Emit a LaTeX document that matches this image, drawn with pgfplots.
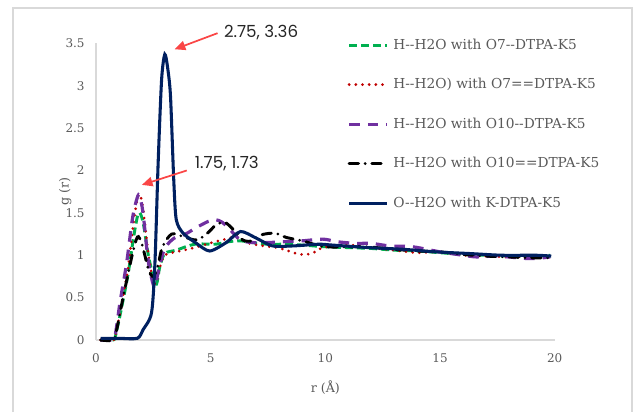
\documentclass[border=0pt]{standalone}
\usepackage{fontspec}
\setmainfont{DejaVu Serif}
\newfontfamily\annfont{Poppins}
\usepackage{pgfplots}
\pgfplotsset{compat=1.18}
\usetikzlibrary{arrows.meta}

\definecolor{txtgray}{RGB}{89,89,89}
\definecolor{axgray}{RGB}{217,217,217}
\definecolor{cgreen}{RGB}{0,176,80}
\definecolor{cred}{RGB}{192,0,0}
\definecolor{cpurple}{RGB}{112,48,160}
\definecolor{cnavy}{RGB}{0,32,96}
\definecolor{carrow}{RGB}{250,70,70}

\begin{document}
\begin{tikzpicture}
\useasboundingbox (0,0) rectangle (475.5pt,309pt);
\draw[axgray, line width=0.8pt] (9.75pt,0) -- (9.75pt,303pt) -- (474pt,303pt) -- (474pt,0);
\begin{axis}[
  at={(72pt,54pt)}, anchor=south west,
  scale only axis, width=344pt, height=222.5pt,
  xmin=0, xmax=20, ymin=0, ymax=3.5,
  xtick={0,5,10,15,20}, ytick={0,0.5,1,1.5,2,2.5,3,3.5},
  axis x line=bottom, axis y line=left,
  axis line style={axgray, line width=0.8pt, -},
  major tick length=0pt,
  tick label style={font=\fontsize{9}{10}\selectfont, text=txtgray},
  /pgf/number format/assume math mode=true,
  yticklabel style={anchor=east, xshift=-5pt},
  xticklabel style={anchor=north, yshift=-7pt},
  xlabel={r (Å)}, ylabel={g (r)},
  label style={font=\fontsize{9.5}{11}\selectfont, text=txtgray},
  xlabel style={at={(axis description cs:0.5,-0.162)}, anchor=center},
  ylabel style={at={(axis description cs:-0.067,0.5)}, anchor=center},
  clip=false,
  legend cell align=left,
  legend style={at={(0.548,1.025)}, anchor=north west, draw=none, fill=none,
    font=\fontsize{10.3}{12}\selectfont, text=txtgray, row sep=16.3pt,
    inner sep=0pt, nodes={inner xsep=3.5pt}},
  legend image code/.code={\draw[#1, line width=2.3pt] (0pt,0pt) -- (28.5pt,0pt);},
]
\addplot[cgreen, line width=2.2pt, dash pattern=on 6pt off 3pt, smooth, tension=0.5] coordinates {
(0.2,0) (0.75,0) (0.85,0.05) (1.1,0.36) (1.4,0.78) (1.62,1.18) (1.8,1.45) (1.91,1.5) (2.06,1.38) (2.27,1.02) (2.49,0.75) (2.64,0.66) (2.78,0.86) (3.0,1.02) (3.5,1.06) (4.3,1.13) (5.2,1.13) (5.8,1.16) (6.3,1.17) (6.8,1.15) (7.5,1.13) (8.2,1.13) (9,1.12) (10,1.1) (11,1.09) (12,1.08) (13,1.06) (14,1.05) (15,1.03) (16,1.01) (17,1.0) (18,0.99) (19,0.99) (19.8,1.0)};
\addlegendentry{H-{}-H2O with O7-{}-DTPA-K5}
\addplot[cred, line width=2.2pt, line cap=round, dash pattern=on 0pt off 5pt, smooth, tension=0.5] coordinates {
(0.2,0) (0.75,0) (0.85,0.05) (1.1,0.4) (1.4,0.85) (1.62,1.35) (1.8,1.66) (1.91,1.72) (2.05,1.55) (2.27,1.05) (2.45,0.75) (2.6,0.66) (2.78,0.85) (3.0,1.0) (3.5,1.04) (4.16,1.08) (4.8,1.13) (5.5,1.18) (6.1,1.21) (6.7,1.14) (7.3,1.11) (7.9,1.09) (8.4,1.05) (8.9,1.01) (9.4,1.02) (9.8,1.08) (10.3,1.11) (11.1,1.12) (12,1.09) (13,1.06) (14,1.03) (15,1.04) (16,1.0) (17,0.99) (18,0.98) (19,0.98) (19.8,0.97)};
\addlegendentry{H-{}-H2O) with O7==DTPA-K5}
\addplot[cpurple, line width=2.4pt, dash pattern=on 8pt off 6pt, smooth, tension=0.5] coordinates {
(0.2,0) (0.7,0) (0.85,0.08) (1.05,0.45) (1.33,0.9) (1.6,1.45) (1.8,1.68) (1.9,1.7) (2.05,1.5) (2.27,0.95) (2.45,0.7) (2.57,0.63) (2.75,0.85) (3.0,1.08) (3.4,1.2) (3.9,1.25) (4.4,1.33) (4.9,1.4) (5.2,1.42) (5.5,1.39) (5.85,1.3) (6.3,1.18) (6.8,1.15) (7.5,1.15) (8.2,1.16) (9,1.17) (9.9,1.19) (10.5,1.16) (11.3,1.14) (12,1.14) (12.8,1.11) (13.8,1.1) (15,1.04) (16,1.0) (16.6,0.98) (17.5,0.99) (18.9,0.96) (19.8,0.98)};
\addlegendentry{H-{}-H2O with O10-{}-DTPA-K5}
\addplot[black, line width=2.2pt, line cap=round, dash pattern=on 7pt off 5pt on 0pt off 5pt, smooth, tension=0.5] coordinates {
(0.2,0) (0.75,0) (0.9,0.12) (1.18,0.5) (1.55,0.97) (1.75,1.18) (1.85,1.22) (1.98,1.15) (2.13,1.0) (2.3,0.82) (2.5,0.75) (2.7,0.88) (2.9,1.1) (3.3,1.25) (3.8,1.22) (4.4,1.18) (4.9,1.27) (5.2,1.35) (5.6,1.39) (6.0,1.3) (6.4,1.18) (6.8,1.17) (7.2,1.24) (7.8,1.26) (8.3,1.21) (9.0,1.17) (10,1.1) (11.7,1.1) (13,1.07) (14,1.05) (15,1.04) (16,1.01) (17,0.99) (18,0.98) (19,0.97) (19.8,0.97)};
\addlegendentry{H-{}-H2O with O10==DTPA-K5}
\addplot[cnavy, line width=2.3pt, smooth, tension=0.45] coordinates {
(0.2,0.02) (1.0,0.02) (1.8,0.02) (2.05,0.12) (2.42,0.32) (2.57,0.91) (2.71,2.09) (2.86,3.07) (3.0,3.37) (3.13,3.2) (3.25,2.87) (3.39,1.89) (3.5,1.42) (3.8,1.26) (4.38,1.14) (4.96,1.05) (5.68,1.15) (6.3,1.28) (7.0,1.2) (7.7,1.11) (8.6,1.11) (9.7,1.13) (10.3,1.12) (11.9,1.09) (13.4,1.07) (14.8,1.04) (16.3,1.02) (17.7,1.0) (19.2,1.0) (19.85,0.99)};
\addlegendentry{O-{}-H2O with K-DTPA-K5}
\draw[carrow, line width=1.3pt, -{Triangle[length=8pt,width=7pt]}] (axis cs:5.3,3.62) -- (axis cs:3.43,3.43);
\node[anchor=west, inner sep=0pt, font=\annfont\fontsize{12.5}{14}\selectfont, text=black!85] at (axis cs:5.57,3.63) {2.75, 3.36};
\draw[carrow, line width=1.3pt, -{Triangle[length=8pt,width=7pt]}] (axis cs:3.96,2.0) -- (axis cs:2.0,1.83);
\node[anchor=west, inner sep=0pt, font=\annfont\fontsize{12.5}{14}\selectfont, text=black!85] at (axis cs:4.3,2.08) {1.75, 1.73};
\end{axis}
\end{tikzpicture}
\end{document}
